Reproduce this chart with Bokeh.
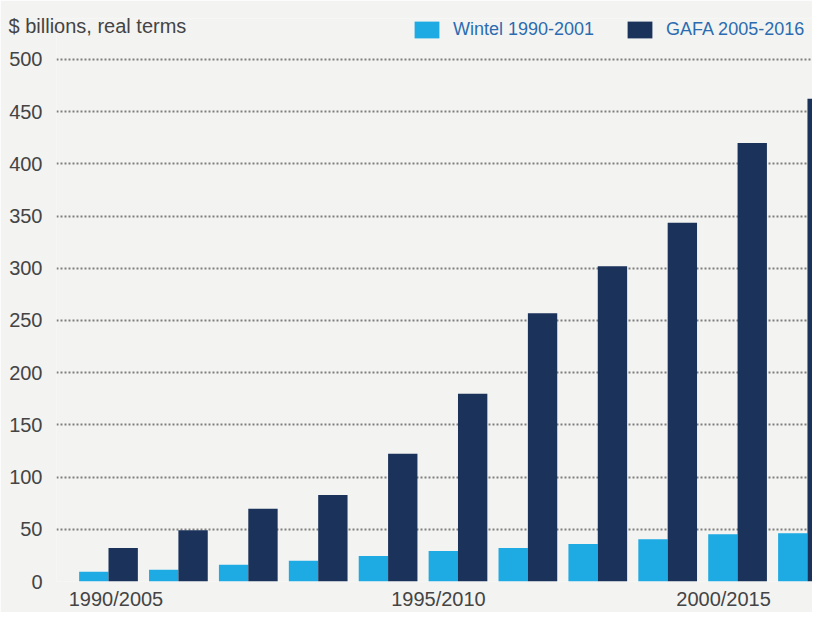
from bokeh.plotting import figure
from bokeh.models import ColumnDataSource, Range1d, FixedTicker, Legend, LegendItem
from bokeh.embed import file_html
from bokeh.resources import INLINE

# ---- data ----
wintel_years = [1990, 1991, 1992, 1993, 1994, 1995, 1996, 1997, 1998, 1999, 2000]
gafa_years = [2005, 2006, 2007, 2008, 2009, 2010, 2011, 2012, 2013, 2014, 2015]
wintel = [9.4, 11.3, 16.0, 19.8, 24.5, 29.2, 32.0, 35.8, 40.5, 45.2, 46.1]
gafa = [32.0, 49.0, 69.7, 82.9, 122.4, 179.8, 257.0, 302.0, 343.7, 420.0, 462.3]
series_names = ["Wintel 1990-2001", "GAFA 2005-2016"]
chart_title = "$ billions, real terms"
tick_labels = ["1990/2005", "1995/2010", "2000/2015"]
y_ticks = [0, 50, 100, 150, 200, 250, 300, 350, 400, 450, 500]

# ---- styles ----
BG = "#f3f3f2"
C_WINTEL = "#1eaae2"
C_GAFA = "#1b325a"
TXT = "#444444"
LEG_TXT = "#2b6cb0"
FONT = "Liberation Sans"
BAR_W = 0.42

idx = list(range(len(wintel)))
src = ColumnDataSource(dict(
    idx=idx,
    xw=[i - BAR_W / 2 for i in idx],
    xg=[i + BAR_W / 2 for i in idx],
    wintel=wintel, gafa=gafa,
    wy=[str(a) for a in wintel_years], gy=[str(b) for b in gafa_years],
))

p = figure(width=812, height=612, output_backend="svg", toolbar_location=None,
           x_range=Range1d(-0.744, 10.072), y_range=Range1d(0, 539.2),
           min_border_left=56, min_border_right=0, min_border_top=18, min_border_bottom=30,
           background_fill_color=BG, border_fill_color=BG, outline_line_color=None,
           title=chart_title)

p.title.align = "left"
p.title.offset = -48
p.title.text_font = FONT
p.title.text_font_size = "20px"
p.title.text_font_style = "normal"
p.title.text_color = TXT
p.title.vertical_align = "bottom"
p.title.standoff = -36

rw = p.vbar(x="xw", top="wintel", width=BAR_W, source=src, fill_color=C_WINTEL, line_color=None)
rg = p.vbar(x="xg", top="gafa", width=BAR_W, source=src, fill_color=C_GAFA, line_color=None)

# axes
p.yaxis.ticker = FixedTicker(ticks=y_ticks)
p.xaxis.ticker = FixedTicker(ticks=[0.107, 4.72, 8.80])
p.xaxis.major_label_overrides = {0.107: tick_labels[0], 4.72: tick_labels[1], 8.8: tick_labels[2]}
for ax in (p.xaxis, p.yaxis):
    ax.axis_line_color = None
    ax.major_tick_line_color = None
    ax.minor_tick_line_color = None
    ax.major_tick_out = 0
    ax.major_tick_in = 0
    ax.minor_tick_out = 0
    ax.minor_tick_in = 0
    ax.major_label_text_font = FONT
    ax.major_label_text_font_size = "20px"
    ax.major_label_text_color = TXT
p.yaxis.major_label_standoff = 14
p.xaxis.major_label_standoff = 6

p.xgrid.grid_line_color = None
p.ygrid.grid_line_color = "#7f7f7f"
p.ygrid.grid_line_width = 2
p.ygrid.grid_line_dash = "2 2"

# legend (inside the frame, near its top edge)
legend = Legend(items=[LegendItem(label=series_names[0], renderers=[rw]),
                       LegendItem(label=series_names[1], renderers=[rg])],
                orientation="horizontal", location=(355, 541),
                background_fill_alpha=0, border_line_color=None,
                label_text_font=FONT, label_text_font_size="18px", label_text_color=LEG_TXT,
                glyph_width=31, glyph_height=21, spacing=30, label_standoff=11,
                margin=0, padding=0)
p.add_layout(legend, "center")

open("out.html", "w").write(file_html(p, INLINE))
